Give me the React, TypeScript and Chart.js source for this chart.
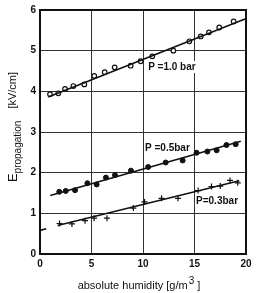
import React, { useEffect, useRef } from "react";
import { Chart, registerables } from "chart.js";

Chart.register(...registerables);

// P = 1.0 bar (open circles)
const humidity10 = [0.97, 1.78, 2.43, 3.24, 4.3, 5.27, 6.28, 7.25, 8.8, 9.77, 10.9, 12.95, 14.5, 15.6, 16.4, 17.4, 18.8];
const field10 = [3.93, 3.95, 4.06, 4.13, 4.17, 4.38, 4.47, 4.59, 4.63, 4.74, 4.86, 5.0, 5.23, 5.35, 5.45, 5.57, 5.72];
// P = 0.5 bar (filled circles)
const humidity05 = [1.87, 2.5, 3.4, 4.6, 5.5, 6.4, 7.28, 8.83, 10.5, 12.2, 13.85, 15.2, 16.25, 17.15, 18.1, 19.0];
const field05 = [1.53, 1.55, 1.57, 1.74, 1.71, 1.88, 1.94, 2.05, 2.14, 2.25, 2.3, 2.49, 2.52, 2.55, 2.68, 2.7];
// P = 0.3 bar (crosses)
const humidity03 = [1.9, 3.1, 4.37, 5.25, 6.5, 9.06, 10.15, 11.8, 13.4, 15.35, 16.65, 17.5, 18.45, 19.2];
const field03 = [0.75, 0.74, 0.82, 0.88, 0.88, 1.13, 1.28, 1.37, 1.37, 1.56, 1.66, 1.67, 1.81, 1.75];

// fitted lines (end points)
const fit10X = [0.8, 19.9];
const fit10Y = [3.86, 5.78];
const fit05X = [1.0, 19.5];
const fit05Y = [1.44, 2.77];
const fit03X = [1.7, 19.35];
const fit03Y = [0.7, 1.8];
const stubX = [0, 0.6];
const stubY = [0.58, 0.62];

const xTicks = [0, 5, 10, 15, 20];
const yTicks = [0, 1, 2, 3, 4, 5, 6];

const seriesLabels = ["P =1.0 bar", "P =0.5bar", "P=0.3bar"];
const labelAnchorsX = [10.5, 10.2, 15.15];
const labelAnchorsY = [4.6, 2.6, 1.3];

const pts = (xs: number[], ys: number[]) => xs.map((x, i) => ({ x, y: ys[i] }));

const FONT = '"Liberation Sans", Arial, sans-serif';

const decorPlugin = {
  id: "decor",
  afterDraw(chart: any) {
    const { ctx, chartArea, scales } = chart;
    const xs = scales.x;
    const ys = scales.y;
    ctx.save();
    // frame
    ctx.strokeStyle = "#111";
    ctx.lineWidth = 2;
    ctx.strokeRect(chartArea.left, chartArea.top, chartArea.right - chartArea.left, chartArea.bottom - chartArea.top);

    // series labels
    ctx.fillStyle = "#111";
    ctx.font = `bold 10px ${FONT}`;
    ctx.textBaseline = "middle";
    ctx.textAlign = "left";
    seriesLabels.forEach((t, i) => {
      const px = xs.getPixelForValue(labelAnchorsX[i]);
      const py = ys.getPixelForValue(labelAnchorsY[i]);
      ctx.fillStyle = "#fff";
      const w = ctx.measureText(t).width;
      ctx.fillRect(px - 1, py - 6, w + 2, 12);
      ctx.fillStyle = "#111";
      ctx.fillText(t, px, py);
    });

    // x title
    ctx.textBaseline = "alphabetic";
    const main = "absolute humidity [g/m";
    const sup = "3";
    const end = " ]";
    ctx.font = `11px ${FONT}`;
    const wMain = ctx.measureText(main).width;
    const wEnd = ctx.measureText(end).width;
    ctx.font = `10px ${FONT}`;
    const wSup = ctx.measureText(sup).width;
    const total = wMain + wSup + 1 + wEnd;
    const cx = 139;
    let x0 = cx - total / 2;
    const by = 289;
    ctx.font = `11px ${FONT}`;
    ctx.fillText(main, x0, by);
    ctx.font = `10px ${FONT}`;
    ctx.fillText(sup, x0 + wMain + 1, by - 5);
    ctx.font = `11px ${FONT}`;
    ctx.fillText(end, x0 + wMain + wSup + 1, by);

    // y title (rotated)
    ctx.save();
    ctx.translate(15, 0);
    ctx.rotate(-Math.PI / 2);
    const eT = "E";
    const subT = "propagation";
    const unitT = "[kV/cm]";
    ctx.font = `13px ${FONT}`;
    const wE = ctx.measureText(eT).width;
    ctx.font = `10px ${FONT}`;
    const wSub = ctx.measureText(subT).width;
    ctx.font = `11px ${FONT}`;
    const wUnit = ctx.measureText(unitT).width;
    const gap = 12;
    const totalY = wE + wSub + gap + wUnit;
    const centerY = 127;
    let s = -(centerY + totalY / 2); // rotated frame: x = -screenY
    ctx.font = `13px ${FONT}`;
    ctx.fillText(eT, s, 2);
    s += wE;
    ctx.font = `10px ${FONT}`;
    ctx.fillText(subT, s, 6);
    s += wSub + gap;
    ctx.font = `11px ${FONT}`;
    ctx.fillText(unitT, s, 1);
    ctx.restore();

    ctx.restore();
  },
};

export default function App() {
  const ref = useRef<HTMLCanvasElement | null>(null);

  useEffect(() => {
    document.body.style.margin = "0";
    const canvas = ref.current;
    if (!canvas) return;
    const lineDs = (xs: number[], ys: number[]) => ({
      data: pts(xs, ys),
      showLine: true,
      borderColor: "#111",
      borderWidth: 1.6,
      pointRadius: 0,
      fill: false,
    });
    const chart = new Chart(canvas, {
      type: "scatter",
      data: {
        datasets: [
          lineDs(fit10X, fit10Y),
          lineDs(fit05X, fit05Y),
          lineDs(fit03X, fit03Y),
          lineDs(stubX, stubY),
          {
            data: pts(humidity10, field10),
            pointStyle: "circle",
            pointRadius: 2.3,
            borderWidth: 1.2,
            borderColor: "#111",
            backgroundColor: "#fff",
          },
          {
            data: pts(humidity05, field05),
            pointStyle: "circle",
            pointRadius: 2.5,
            borderWidth: 1,
            borderColor: "#111",
            backgroundColor: "#111",
          },
          {
            data: pts(humidity03, field03),
            pointStyle: "cross",
            pointRadius: 3,
            borderWidth: 1.2,
            borderColor: "#111",
            backgroundColor: "#111",
          },
        ] as any,
      },
      options: {
        responsive: false,
        animation: false,
        devicePixelRatio: 1,
        layout: { padding: { top: 5, right: 21, left: 0, bottom: 0 } },
        plugins: { legend: { display: false }, tooltip: { enabled: false } },
        scales: {
          x: {
            type: "linear",
            min: 0,
            max: 20,
            afterBuildTicks: (scale: any) => {
              scale.ticks = xTicks.map((v) => ({ value: v }));
            },
            afterFit: (scale: any) => {
              scale.height = 39;
            },
            grid: { color: "#333", lineWidth: 1, drawTicks: false },
            border: { display: false },
            ticks: {
              color: "#111",
              font: { family: FONT, size: 10, weight: "bold" },
              padding: 4,
              maxRotation: 0,
            },
          },
          y: {
            type: "linear",
            min: 0,
            max: 6,
            afterBuildTicks: (scale: any) => {
              scale.ticks = yTicks.map((v) => ({ value: v }));
            },
            afterFit: (scale: any) => {
              scale.width = 40;
            },
            grid: { color: "#333", lineWidth: 1, drawTicks: false },
            border: { display: false },
            ticks: {
              color: "#111",
              font: { family: FONT, size: 10, weight: "bold" },
              padding: 4,
            },
          },
        },
      } as any,
      plugins: [decorPlugin],
    });
    return () => chart.destroy();
  }, []);

  return <canvas ref={ref} width={267} height={293} style={{ display: "block", width: 267, height: 293 }} />;
}
